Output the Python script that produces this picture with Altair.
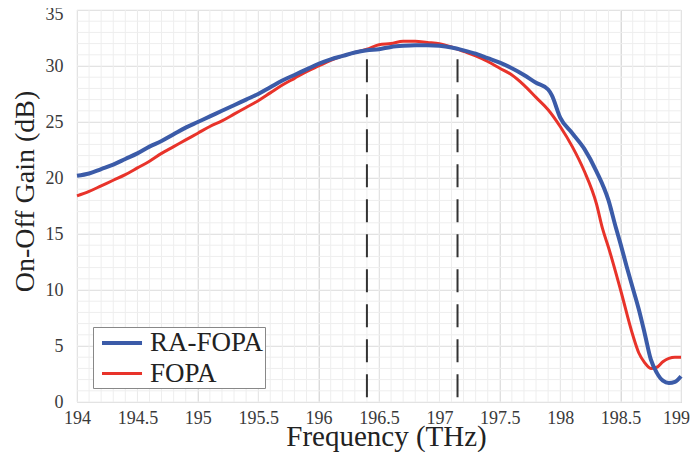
import altair as alt
import pandas as pd

freq_blue = [194.0, 194.1, 194.2, 194.3, 194.4, 194.5, 194.6, 194.7, 194.8, 194.9,
             195.0, 195.1, 195.2, 195.3, 195.4, 195.5, 195.6, 195.7, 195.8, 195.9,
             196.0, 196.1, 196.2, 196.3, 196.4, 196.5, 196.6, 196.7, 196.8, 196.9,
             197.0, 197.1, 197.2, 197.3, 197.4, 197.5, 197.6, 197.7, 197.8, 197.9,
             197.93, 198.0, 198.1, 198.2, 198.3, 198.4, 198.46, 198.5, 198.55, 198.6,
             198.65, 198.7, 198.75, 198.8, 198.85, 198.9, 198.95, 199.0]
gain_blue = [20.2, 20.4, 20.8, 21.2, 21.7, 22.2, 22.8, 23.3, 23.9, 24.5,
             25.0, 25.5, 26.0, 26.5, 27.0, 27.5, 28.1, 28.7, 29.2, 29.7,
             30.2, 30.6, 30.9, 31.2, 31.4, 31.5, 31.7, 31.8, 31.85, 31.85,
             31.8, 31.65, 31.4, 31.1, 30.7, 30.3, 29.8, 29.2, 28.5, 27.9,
             27.4, 25.4, 24.0, 22.6, 20.6, 18.0, 15.6, 14.1, 12.1, 10.2,
             8.3, 6.1, 3.8, 2.6, 1.9, 1.7, 1.8, 2.3]

freq_red = [194.0, 194.1, 194.2, 194.3, 194.4, 194.5, 194.6, 194.7, 194.8, 194.9,
            195.0, 195.1, 195.2, 195.3, 195.4, 195.5, 195.6, 195.7, 195.8, 195.9,
            196.0, 196.1, 196.2, 196.3, 196.4, 196.5, 196.6, 196.7, 196.8, 196.9,
            197.0, 197.1, 197.2, 197.3, 197.4, 197.5, 197.6, 197.7, 197.8, 197.9,
            198.0, 198.1, 198.2, 198.3, 198.35, 198.4, 198.5, 198.6, 198.65, 198.7,
            198.75, 198.8, 198.85, 198.9, 198.95, 199.0]
gain_red = [18.4, 18.8, 19.3, 19.8, 20.3, 20.9, 21.5, 22.2, 22.8, 23.4,
            24.0, 24.6, 25.1, 25.7, 26.3, 26.9, 27.6, 28.3, 28.9, 29.5,
            30.0, 30.5, 30.9, 31.2, 31.5, 31.9, 32.0, 32.2, 32.2, 32.1,
            32.0, 31.7, 31.3, 30.9, 30.4, 29.8, 29.2, 28.3, 27.2, 26.1,
            24.6, 22.8, 20.6, 17.7, 15.5, 13.8, 10.0, 6.0, 4.4, 3.5,
            3.0, 3.1, 3.6, 3.9, 4.0, 4.0]

marker_freq = [196.4, 197.15]
marker_top = [30.6, 30.6]
marker_bottom = [0, 0]

x_major = [194, 194.5, 195, 195.5, 196, 196.5, 197, 197.5, 198, 198.5, 199]
y_major = [0, 5, 10, 15, 20, 25, 30, 35]
x_minor = [round(194 + i * 0.1, 1) for i in range(51)]
y_minor = list(range(0, 36))

series_names = ["RA-FOPA", "FOPA"]
series_colors = ["#3b5ba8", "#e8332a"]

df = pd.concat([
    pd.DataFrame({"freq": freq_red, "gain": gain_red, "series": "FOPA", "order": 0}),
    pd.DataFrame({"freq": freq_blue, "gain": gain_blue, "series": "RA-FOPA", "order": 1}),
])
markers = pd.DataFrame({"freq": marker_freq, "ytop": marker_top, "ybot": marker_bottom})
grid_x = pd.DataFrame({"freq": x_minor})
grid_y = pd.DataFrame({"gain": y_minor})

FONT = "Liberation Serif"
xscale = alt.Scale(domain=[194, 199], nice=False, zero=False)
yscale = alt.Scale(domain=[0, 35], nice=False)

x_enc = alt.X("freq:Q", scale=xscale,
              axis=alt.Axis(values=x_major, title="Frequency (THz)", format="~g",
                            gridColor="#d9d9d9", ticks=False, domain=False,
                            labelPadding=7, labelFontSize=18, titleFontSize=29,
                            labelOffset={"condition": {"test": "datum.value === 199", "value": -5}, "value": 0},
                            titleX=309, titleY=43, titleBaseline="alphabetic",
                            labelFont=FONT, titleFont=FONT, labelColor="#3a3a3a",
                            titleColor="#222", titleFontWeight="normal",
                            labelFlush=False, labelOverlap=False))
y_enc = alt.Y("gain:Q", scale=yscale,
              axis=alt.Axis(values=y_major, title="On-Off Gain (dB)",
                            gridColor="#d9d9d9", ticks=False, domain=False,
                            labelPadding=14, labelFontSize=18, titleFontSize=28,
                            labelOffset={"condition": {"test": "datum.value === 35", "value": 4}, "value": 0},
                            titleX=-52, titleY=181, titleBaseline="middle",
                            labelFont=FONT, titleFont=FONT, labelColor="#3a3a3a",
                            titleColor="#222", titleFontWeight="normal",
                            labelOverlap=False))

minor_v = alt.Chart(grid_x).mark_rule(color="#eeeeee", strokeWidth=1).encode(
    x=alt.X("freq:Q", scale=xscale))
minor_h = alt.Chart(grid_y).mark_rule(color="#eeeeee", strokeWidth=1).encode(
    y=alt.Y("gain:Q", scale=yscale))

lines = alt.Chart(df).mark_line(interpolate="monotone").encode(
    x=x_enc,
    y=y_enc,
    color=alt.Color("series:N",
                    scale=alt.Scale(domain=series_names, range=series_colors),
                    legend=alt.Legend(title=None, orient="none", legendX=16, legendY=317,
                                      symbolType="M-0.538,0H2.54", symbolSize=676,
                                      symbolStrokeWidth=5, labelFontSize=27,
                                      labelFont=FONT, labelColor="#222",
                                      labelExpr="datum.label + ' '",
                                      strokeColor="#888", fillColor="white",
                                      padding=1, rowPadding=3, labelOffset=26)),
    strokeWidth=alt.StrokeWidth("series:N",
                                scale=alt.Scale(domain=series_names, range=[4, 3]),
                                legend=None),
    order="order:Q",
)

rules = alt.Chart(markers).mark_rule(color="#333", strokeWidth=2, strokeDash=[23, 12]).encode(
    x="freq:Q", y="ytop:Q", y2="ybot:Q"
)

chart = alt.layer(minor_v, minor_h, lines, rules).properties(
    width=604, height=392,
    autosize=alt.AutoSizeParams(type="none"),
    padding={"left": 69, "top": 2, "right": 9, "bottom": 50},
).configure_view(stroke="#dddddd")

chart.save("out.html", embed_options={"renderer": "svg", "actions": False})
